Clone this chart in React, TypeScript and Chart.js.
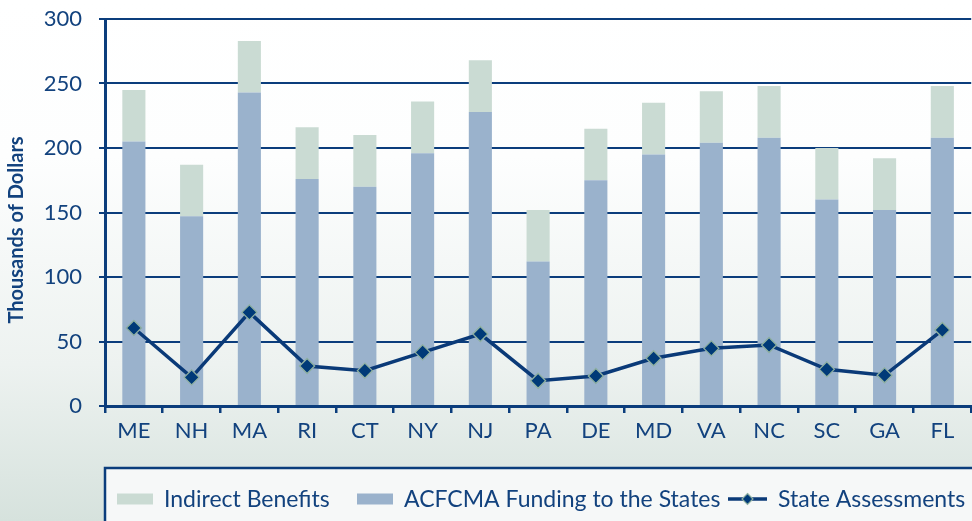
import { useEffect, useRef } from "react";
import { Chart, registerables } from "chart.js";

Chart.register(...registerables);

const states = ["ME", "NH", "MA", "RI", "CT", "NY", "NJ", "PA", "DE", "MD", "VA", "NC", "SC", "GA", "FL"];
const funding = [205, 147, 243, 176, 170, 196, 228, 112, 175, 195, 204, 208, 160, 152, 208];
const indirect = [40, 40, 40, 40, 40, 40, 40, 40, 40, 40, 40, 40, 40, 40, 40];
const assessments = [60.5, 22.2, 72.6, 31, 27.4, 41.6, 55.8, 19.6, 23.3, 37, 44.7, 47.3, 28.4, 23.8, 58.9];
const yTicks = [0, 50, 100, 150, 200, 250, 300];

const NAVY = "#0b3d7c";
const TEXT = "#12427e";
const GREEN = "#cadbd3";
const BLUE = "#9ab2cc";
const FONT = "Lato, 'Noto Sans', sans-serif";

const bgPlugin = {
  id: "bgPlugin",
  beforeDraw(chart: any) {
    const { ctx, width, height } = chart;
    const g = ctx.createLinearGradient(0, 0, 0, height);
    g.addColorStop(0, "#ffffff");
    g.addColorStop(0.3, "#fdfefe");
    g.addColorStop(0.7, "#edf2f0");
    g.addColorStop(1, "#d6e2dd");
    ctx.save();
    ctx.fillStyle = g;
    ctx.fillRect(0, 0, width, height);
    ctx.restore();
  },
};

const extrasPlugin = {
  id: "extrasPlugin",
  afterDraw(chart: any) {
    const { ctx, chartArea } = chart;
    ctx.save();
    // y-axis title
    ctx.translate(17, 230);
    ctx.rotate(-Math.PI / 2);
    ctx.fillStyle = TEXT;
    ctx.font = `bold 20px ${FONT}`;
    ctx.textAlign = "center";
    ctx.textBaseline = "middle";
    ctx.fillText("Thousands of Dollars", 0, 0);
    ctx.restore();

    // legend box
    const left = chartArea.left;
    const top = 468;
    ctx.save();
    ctx.fillStyle = "#f6f8f8";
    ctx.fillRect(left, top, chart.width - left + 10, 80);
    ctx.strokeStyle = NAVY;
    ctx.lineWidth = 2.5;
    ctx.strokeRect(left, top, chart.width - left + 10, 80);

    const ds = chart.data.datasets;
    const order = [1, 0, 2];
    const swatchX = [left + 12, left + 252, left + 623];
    const cy = 499;
    ctx.font = `23px ${FONT}`;
    ctx.textBaseline = "middle";
    ctx.textAlign = "left";
    order.forEach((i, k) => {
      const d = ds[i];
      let x = swatchX[k];
      if (d.type === "line") {
        ctx.strokeStyle = d.borderColor;
        ctx.lineWidth = 3.5;
        ctx.beginPath();
        ctx.moveTo(x, cy);
        ctx.lineTo(x + 39, cy);
        ctx.stroke();
        const cx = x + 19.5;
        const r = 5.5;
        ctx.beginPath();
        ctx.moveTo(cx, cy - r);
        ctx.lineTo(cx + r, cy);
        ctx.lineTo(cx, cy + r);
        ctx.lineTo(cx - r, cy);
        ctx.closePath();
        ctx.fillStyle = d.pointBackgroundColor;
        ctx.fill();
        ctx.strokeStyle = d.pointBorderColor;
        ctx.lineWidth = 1.2;
        ctx.stroke();
        x += 39 + 11;
      } else {
        ctx.fillStyle = d.backgroundColor;
        ctx.fillRect(x, cy - 5.5, 36, 11);
        x += 36 + 11;
      }
      ctx.fillStyle = TEXT;
      ctx.fillText(d.label, x, cy + 1);
    });
    ctx.restore();
  },
};

export default function App() {
  const ref = useRef<HTMLCanvasElement | null>(null);

  useEffect(() => {
    if (!ref.current) return;
    const chart = new Chart(ref.current, {
      type: "bar",
      data: {
        labels: states,
        datasets: [
          {
            type: "bar",
            label: "ACFCMA Funding to the States",
            data: funding,
            backgroundColor: BLUE,
            stack: "bars",
            categoryPercentage: 0.8,
            barPercentage: 0.5,
            order: 2,
          },
          {
            type: "bar",
            label: "Indirect Benefits",
            data: indirect,
            backgroundColor: GREEN,
            stack: "bars",
            categoryPercentage: 0.8,
            barPercentage: 0.5,
            order: 2,
          },
          {
            type: "line",
            label: "State Assessments",
            data: assessments,
            borderColor: "#0a3a78",
            borderWidth: 3.5,
            pointStyle: "rectRot",
            pointRadius: 7.5,
            pointBackgroundColor: "#003a78",
            pointBorderColor: "#8fb0a1",
            pointBorderWidth: 1.3,
            stack: "line",
            tension: 0,
            order: 1,
          } as any,
        ],
      },
      options: {
        animation: false,
        responsive: false,
        maintainAspectRatio: false,
        layout: { padding: { top: 19, right: 5, bottom: 60, left: 0 } },
        plugins: {
          legend: { display: false },
          tooltip: { enabled: false },
        },
        scales: {
          x: {
            stacked: true,
            grid: {
              offset: true,
              drawOnChartArea: false,
              drawTicks: true,
              tickLength: 7,
              color: NAVY,
              lineWidth: 2.5,
            },
            border: { color: NAVY, width: 3 },
            ticks: { font: { family: FONT, size: 22 }, color: TEXT, padding: 5, maxRotation: 0, autoSkip: false },
            afterFit(s: any) {
              s.height = 55;
              s.paddingLeft = 0;
              s.paddingRight = 0;
            },
          },
          y: {
            stacked: true,
            min: 0,
            max: 300,
            afterBuildTicks(s: any) {
              s.ticks = yTicks.map((v) => ({ value: v }));
            },
            ticks: { font: { family: FONT, size: 22 }, color: TEXT, padding: 17 },
            grid: { color: NAVY, lineWidth: 2, tickLength: 6 },
            border: { color: NAVY, width: 3 },
            afterFit(s: any) {
              s.width = 105;
              s.paddingTop = 0;
              s.paddingBottom = 0;
            },
          },
        },
      },
      plugins: [bgPlugin, extrasPlugin],
    });
    return () => chart.destroy();
  }, []);

  return (
    <div style={{ position: "absolute", left: 0, top: 0, width: 972, height: 521, overflow: "hidden" }}>
      <canvas ref={ref} width={980} height={521} style={{ display: "block", width: 980, height: 521 }} />
    </div>
  );
}
